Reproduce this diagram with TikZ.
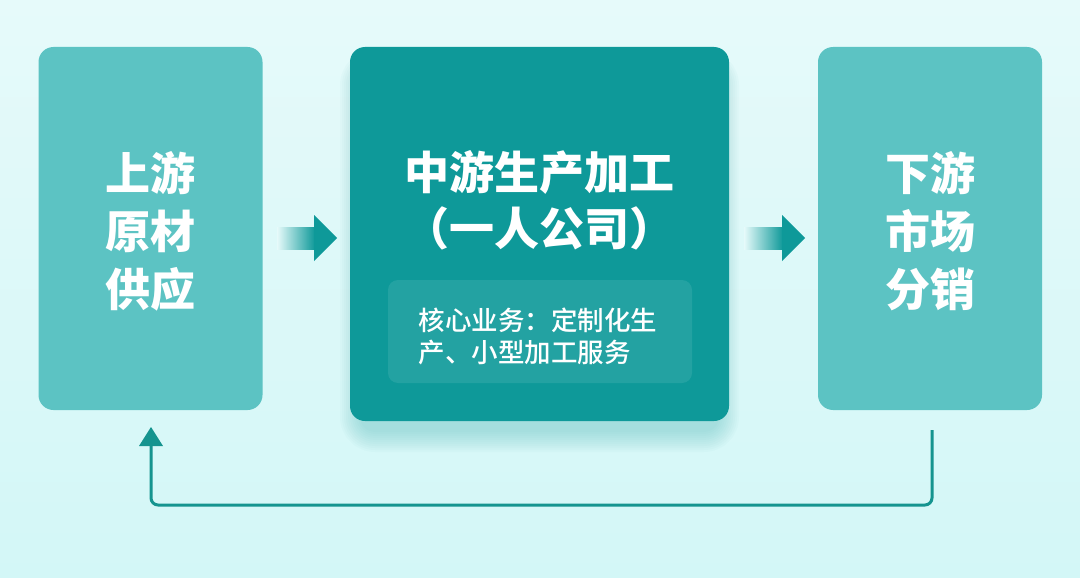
\documentclass[tikz,border=0pt]{standalone}
\usepackage{fontspec}
\setmainfont{Noto Sans CJK SC}
\newfontfamily\cjkm{Noto Sans CJK SC}[UprightFont=* Medium]
\usetikzlibrary{arrows.meta}
\definecolor{bgtop}{HTML}{E6FAFA}
\definecolor{bgbot}{HTML}{D3F7F7}
\definecolor{side}{HTML}{5CC3C3}
\definecolor{mid}{HTML}{0E9999}
\definecolor{line}{HTML}{15948F}
\tikzset{
  sidebox/.style={fill=side, rounded corners=15pt, minimum width=224pt, minimum height=363pt, inner sep=0pt},
  midbox/.style={fill=mid, rounded corners=15pt, minimum width=379pt, minimum height=374pt, inner sep=0pt},
  bigtxt/.style={text=white, font=\fontsize{45pt}{58pt}\selectfont\bfseries, align=center},
  smalltxt/.style={text=white, font=\fontsize{26.5pt}{32pt}\cjkm, align=left},
  innerbox/.style={fill=white, fill opacity=0.09, rounded corners=10pt, minimum width=304pt, minimum height=103pt, inner sep=0pt},
  fb/.style={draw=line, line width=3pt, rounded corners=7pt},
}
\begin{document}
\begin{tikzpicture}[x=1pt,y=-1pt]
\shade[top color=bgtop, bottom color=bgbot] (0,0) rectangle (1080,578);
\useasboundingbox (0,0) rectangle (1080,578);
% soft shadow under the middle box
\foreach \i in {0,2,...,20}{
  \fill[mid, opacity=0.025, rounded corners=15pt+\i pt] (360-\i,70-\i) rectangle (719+\i,432+\i);
}
% boxes
\node[sidebox] (up) at (150.5,228.5) {};
\node[midbox] (md) at (539.5,234) {};
\node[sidebox] (down) at (930,228.5) {};
\node[bigtxt] (uptxt) at (150,231) {上游\\原材\\供应};
\node[bigtxt] (downtxt) at (930,231) {下游\\市场\\分销};
\node[bigtxt, font=\fontsize{45pt}{56pt}\selectfont\bfseries] (mdtxt) at (539,200) {中游生产加工\\（一人公司）};
\node[innerbox] (inner) at (540,331.5) {};
\node[smalltxt, anchor=west] (innertxt) at (415,336) {核心业务：定制化生\\产、小型加工服务};
% forward arrows
\coordinate (a1s) at (277,238);
\coordinate (a1e) at (337,238);
\coordinate (a2s) at (744,238);
\coordinate (a2e) at (805,238);
\foreach \s/\e in {a1s/a1e,a2s/a2e}{
  \shade[left color=mid!0!bgtop, right color=mid] ([yshift=-11pt]\s) rectangle ([xshift=-22pt,yshift=11pt]\e);
  \fill[mid] ([xshift=-23pt,yshift=-11pt]\e) -- ([xshift=-23pt,yshift=-23pt]\e) -- (\e) -- ([xshift=-23pt,yshift=23pt]\e) -- ([xshift=-23pt,yshift=11pt]\e) -- cycle;
}
% feedback connector
\coordinate (fs) at (932,430);
\coordinate (fe) at (151,445);
\draw[fb] (fs) -- (932,505) -- (151,505) -- (fe);
\fill[line] (151,427) -- (139,446) -- (163,446) -- cycle;
\end{tikzpicture}
\end{document}
